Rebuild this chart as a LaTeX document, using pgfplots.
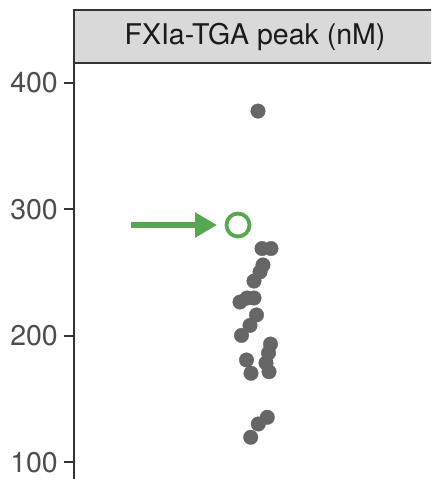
\documentclass[border=0pt]{standalone}
\usepackage{pgfplots}
\pgfplotsset{compat=1.18}
\usepackage{fontspec}
\setmainfont{TeX Gyre Heros}
\usetikzlibrary{arrows.meta}
\definecolor{ptgray}{HTML}{666666}
\definecolor{axgray}{HTML}{333333}
\definecolor{txtgray}{HTML}{4D4D4D}
\definecolor{titlegray}{HTML}{1A1A1A}
\definecolor{stripfill}{HTML}{D9D9D9}
\definecolor{hlgreen}{RGB}{88,166,80}

\begin{document}
\fontsize{28.5}{34}\selectfont
\begin{tikzpicture}
\useasboundingbox (-74pt,0pt) rectangle (357pt,479pt);
\clip (-74pt,0pt) rectangle (357pt,479pt);
\begin{axis}[
  at={(0pt,0pt)}, anchor=south west,
  scale only axis, width=357pt, height=416pt,
  xmin=0, xmax=357, ymin=86.7, ymax=415.6,
  axis x line=none, axis y line*=left,
  axis line style={axgray, line width=1.4pt, -},
  ytick={100,200,300,400},
  tick align=outside, major tick length=10pt,
  tick style={axgray, line width=1.8pt},
  yticklabel style={text=txtgray, font=\fontsize{28.5}{34}\selectfont, inner sep=0pt, xshift=-6pt},
  /pgf/number format/assume math mode=true,
  clip=false,
]
% individual peak values (beeswarm offsets along x)
\addplot[only marks, mark=*, mark size=7.3pt, color=ptgray, mark options={line width=0.3pt}]
  coordinates {
  (184,377.6)
  (188,268.9) (197,268.9)
  (189,255.9) (186,250.4) (180,243.2)
  (166,226.6) (173,229.8) (180,229.8)
  (182.5,216.4) (176,208.1) (167.5,200.2)
  (196.5,193.4) (194.5,186.3) (172.5,180.8)
  (192,178.4) (177,170.3) (195,171.5)
  (193.3,135.5) (184.3,130.2) (176.7,119.7)
  };
% highlighted sample
\addplot[only marks, mark=o, mark size=11.5pt, color=hlgreen, mark options={line width=3.8pt}]
  coordinates {(164,287.5)};
\addplot[hlgreen, line width=6pt, -{Triangle[length=22pt,width=24pt]}]
  coordinates {(57,287.5) (143,287.5)};
\end{axis}
% facet strip
\draw[axgray, line width=1.4pt, fill=stripfill] (0pt,416pt) rectangle (366pt,469pt);
\node[text=titlegray, font=\fontsize{28.5}{34}\selectfont] at (181pt,442.5pt) {FXIa-TGA peak (nM)};
\end{tikzpicture}
\end{document}
